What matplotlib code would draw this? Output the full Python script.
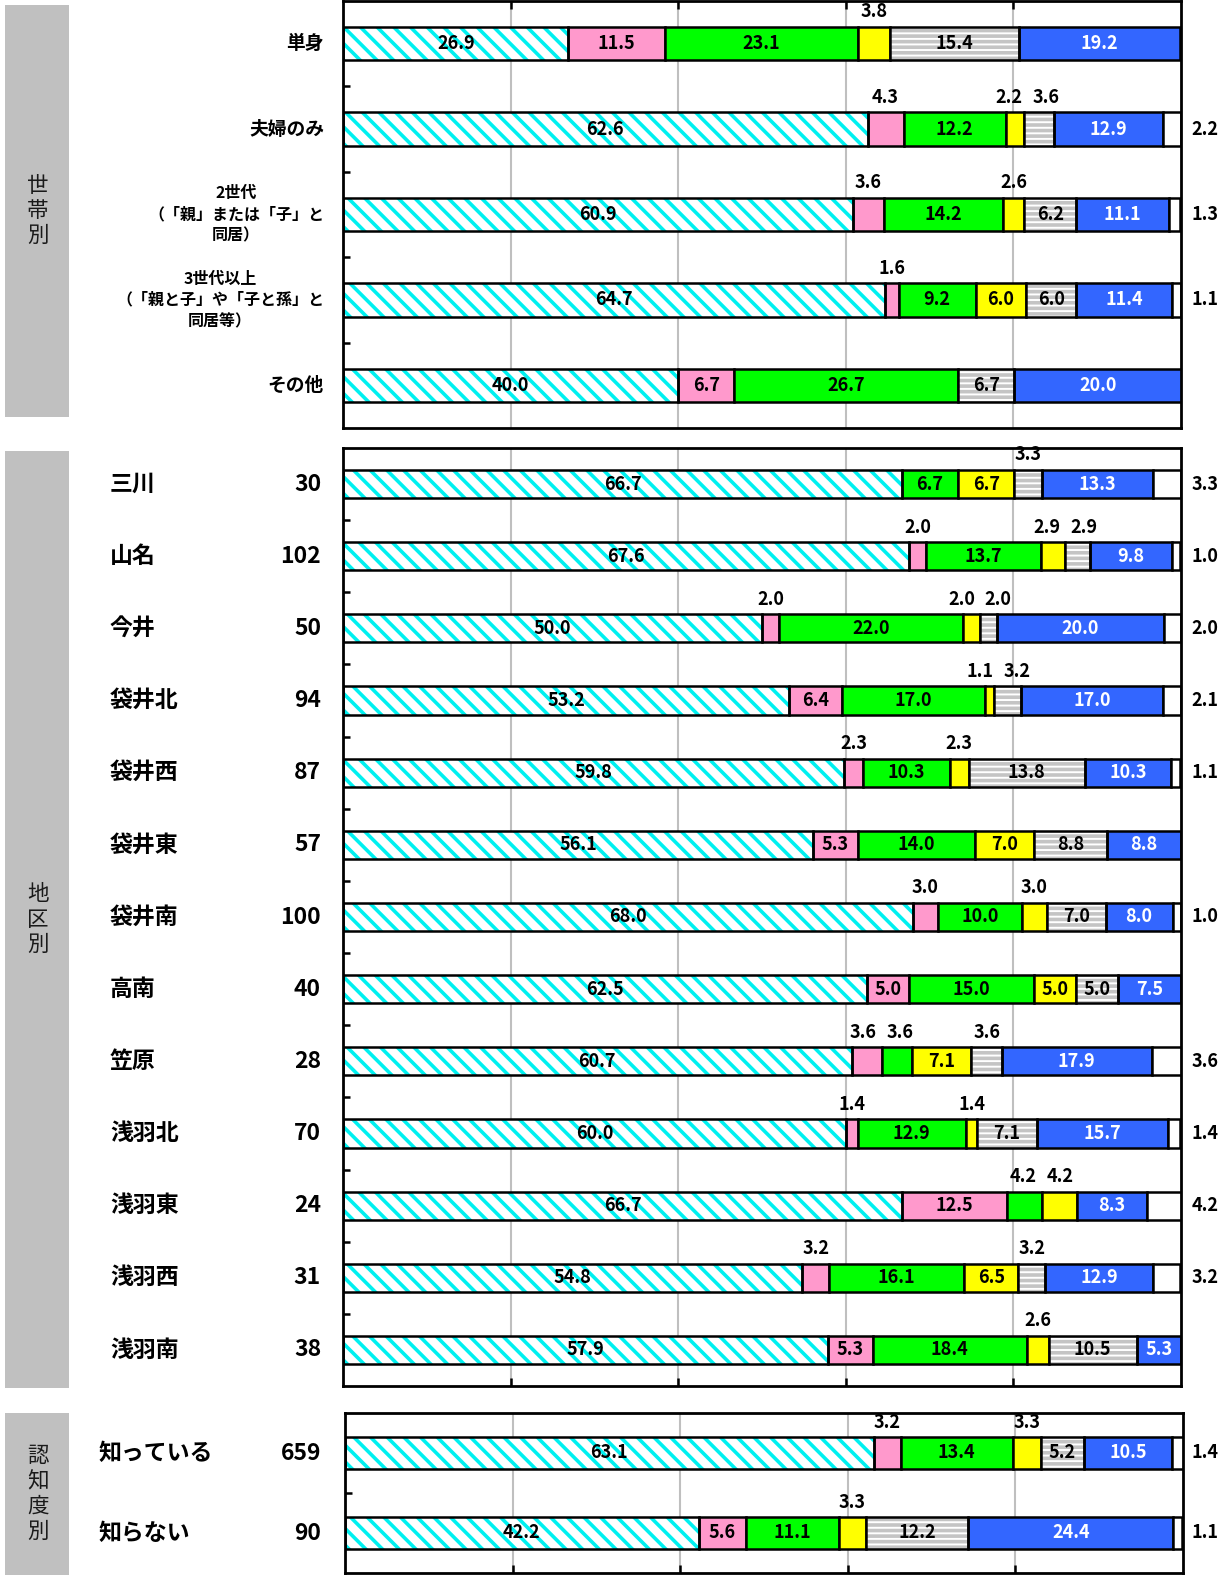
import matplotlib
matplotlib.use('Agg')
import matplotlib.pyplot as plt
from matplotlib.transforms import blended_transform_factory
from matplotlib.patches import Rectangle

plt.rcParams['font.family'] = ['Noto Sans CJK JP', 'DejaVu Sans']
plt.rcParams['hatch.linewidth'] = 2.6

# ---------------- data ----------------
household_labels = ['単身', '夫婦のみ',
                    '2世代\n（「親」または「子」と\n同居）',
                    '3世代以上\n（「親と子」や「子と孫」と\n同居等）',
                    'その他']
household_values = [
    [26.9, 11.5, 23.1, 3.8, 15.4, 19.2, 0.0],
    [62.6, 4.3, 12.2, 2.2, 3.6, 12.9, 2.2],
    [60.9, 3.6, 14.2, 2.6, 6.2, 11.1, 1.3],
    [64.7, 1.6, 9.2, 6.0, 6.0, 11.4, 1.1],
    [40.0, 6.7, 26.7, 0.0, 6.7, 20.0, 0.0],
]

district_names = ['三川', '山名', '今井', '袋井北', '袋井西', '袋井東', '袋井南',
                  '高南', '笠原', '浅羽北', '浅羽東', '浅羽西', '浅羽南']
district_n = [30, 102, 50, 94, 87, 57, 100, 40, 28, 70, 24, 31, 38]
district_values = [
    [66.7, 0.0, 6.7, 6.7, 3.3, 13.3, 3.3],
    [67.6, 2.0, 13.7, 2.9, 2.9, 9.8, 1.0],
    [50.0, 2.0, 22.0, 2.0, 2.0, 20.0, 2.0],
    [53.2, 6.4, 17.0, 1.1, 3.2, 17.0, 2.1],
    [59.8, 2.3, 10.3, 2.3, 13.8, 10.3, 1.1],
    [56.1, 5.3, 14.0, 7.0, 8.8, 8.8, 0.0],
    [68.0, 3.0, 10.0, 3.0, 7.0, 8.0, 1.0],
    [62.5, 5.0, 15.0, 5.0, 5.0, 7.5, 0.0],
    [60.7, 3.6, 3.6, 7.1, 3.6, 17.9, 3.6],
    [60.0, 1.4, 12.9, 1.4, 7.1, 15.7, 1.4],
    [66.7, 12.5, 4.2, 4.2, 0.0, 8.3, 4.2],
    [54.8, 3.2, 16.1, 6.5, 3.2, 12.9, 3.2],
    [57.9, 5.3, 18.4, 2.6, 10.5, 5.3, 0.0],
]

awareness_names = ['知っている', '知らない']
awareness_n = [659, 90]
awareness_values = [
    [63.1, 3.2, 13.4, 3.3, 5.2, 10.5, 1.4],
    [42.2, 5.6, 11.1, 3.3, 12.2, 24.4, 1.1],
]

group_titles = ['世帯別', '地区別', '認知度別']

# ---------------- styles ----------------
seg_styles = [
    dict(fc='white', hatch='\\\\', hc='#00F0F0', tc='black'),
    dict(fc='#FF99CC', tc='black'),
    dict(fc='#00FF00', tc='black'),
    dict(fc='#FFFF00', tc='black'),
    dict(fc='white', hatch='---', hc='#C4C4C4', tc='black'),
    dict(fc='#3366FF', tc='white'),
    dict(fc='white', tc='black'),
]

W, H = 1227, 1575
fig = plt.figure(figsize=(W / 100, H / 100), dpi=100)


def px_axes(left, top, right, bottom):
    return fig.add_axes([left / W, 1 - bottom / H, (right - left) / W, (bottom - top) / H])


BAR_H = 0.39
LABEL_FS = 13
MIN_GAP = 4.4  # in percent units, for labels placed above the bar


def spread(xs):
    xs = list(xs)
    for _ in range(10):
        changed = False
        for k in range(len(xs) - 1):
            d = xs[k + 1] - xs[k]
            if d < MIN_GAP:
                shift = (MIN_GAP - d) / 2
                xs[k] -= shift
                xs[k + 1] += shift
                changed = True
        if not changed:
            break
    return xs


def draw_panel(ax, values, tick_top):
    n = len(values)
    for i, row in enumerate(values):
        left = 0.0
        above = []
        for j, v in enumerate(row):
            if v <= 0:
                continue
            st = seg_styles[j]
            if 'hatch' in st:
                ax.barh(i, v, left=left, height=BAR_H, color='white', edgecolor=st['hc'],
                        hatch=st['hatch'], linewidth=0, zorder=2)
                ax.barh(i, v, left=left, height=BAR_H, fill=False, edgecolor='black',
                        linewidth=1.8, zorder=3)
            else:
                ax.barh(i, v, left=left, height=BAR_H, color=st['fc'], edgecolor='black',
                        linewidth=1.8, zorder=2)
            txt = f'{v:.1f}'
            if j == len(row) - 1:
                trans = blended_transform_factory(fig.transFigure, ax.transData)
                ax.text(1205 / W, i, txt, transform=trans, ha='center', va='center',
                        fontsize=LABEL_FS, fontweight='bold', color='black', clip_on=False)
            elif v >= 5:
                ax.text(left + v / 2, i, txt, ha='center', va='center', fontsize=LABEL_FS,
                        fontweight='bold', color=st['tc'], zorder=5)
            else:
                above.append((left + v / 2, txt))
            left += v
        if above:
            xs = spread([a[0] for a in above])
            for x, (_, txt) in zip(xs, above):
                ax.annotate(txt, xy=(x, i - BAR_H / 2), xytext=(0, 4),
                            textcoords='offset points', ha='center', va='bottom',
                            fontsize=LABEL_FS, fontweight='bold', color='black', zorder=5,
                            annotation_clip=False)
    ax.set_xlim(0, 100)
    ax.set_ylim(n - 0.5, -0.5)
    ax.set_xticks([20, 40, 60, 80])
    ax.grid(axis='x', color='#BFBFBF', linewidth=1.5, zorder=0)
    ax.set_axisbelow(True)
    ax.tick_params(axis='x', direction='in', length=6, width=1.8, color='black',
                   top=tick_top, bottom=not tick_top, labeltop=False, labelbottom=False)
    ax.set_yticks([k + 0.5 for k in range(n - 1)])
    ax.tick_params(axis='y', direction='in', length=5, width=1.8, labelleft=False)
    for sp in ax.spines.values():
        sp.set_linewidth(2.0)
        sp.set_color('black')


ax1 = px_axes(343, 1, 1181, 428)
ax2 = px_axes(343, 448, 1181, 1386)
ax3 = px_axes(345, 1413, 1183, 1573)

draw_panel(ax1, household_values, True)
draw_panel(ax2, district_values, False)
draw_panel(ax3, awareness_values, False)

# category labels
t1 = blended_transform_factory(fig.transFigure, ax1.transData)
for i, lab in enumerate(household_labels):
    multi = '\n' in lab
    ax1.text(324 / W, i, lab, transform=t1, ha='right', va='center', multialignment='center',
             fontsize=11.5 if multi else 13.5, fontweight='bold', linespacing=1.4,
             clip_on=False)

NAME_FS = 16.5
t2 = blended_transform_factory(fig.transFigure, ax2.transData)
for i, (nm, n) in enumerate(zip(district_names, district_n)):
    ax2.text(110 / W, i, nm, transform=t2, ha='left', va='center', fontsize=NAME_FS,
             fontweight='bold', clip_on=False)
    ax2.text(321 / W, i, str(n), transform=t2, ha='right', va='center', fontsize=NAME_FS,
             fontweight='bold', clip_on=False)

t3 = blended_transform_factory(fig.transFigure, ax3.transData)
for i, (nm, n) in enumerate(zip(awareness_names, awareness_n)):
    ax3.text(99 / W, i, nm, transform=t3, ha='left', va='center', fontsize=NAME_FS,
             fontweight='bold', clip_on=False)
    ax3.text(321 / W, i, str(n), transform=t3, ha='right', va='center', fontsize=NAME_FS,
             fontweight='bold', clip_on=False)

# gray group boxes
boxes = [(5, 417), (451, 1388), (1413, 1575)]
for (top, bottom), title in zip(boxes, group_titles):
    fig.patches.append(Rectangle((5 / W, 1 - bottom / H), 64 / W, (bottom - top) / H,
                                 transform=fig.transFigure, facecolor='#C0C0C0',
                                 edgecolor='none', zorder=0))
    cy = (top + bottom) / 2
    step = 25
    k = len(title)
    for c_i, ch in enumerate(title):
        y = cy + (c_i - (k - 1) / 2) * step
        fig.text(38 / W, 1 - y / H, ch, ha='center', va='center', fontsize=15.5,
                 color='#1a1a1a')

fig.savefig('out.png', dpi=100)
